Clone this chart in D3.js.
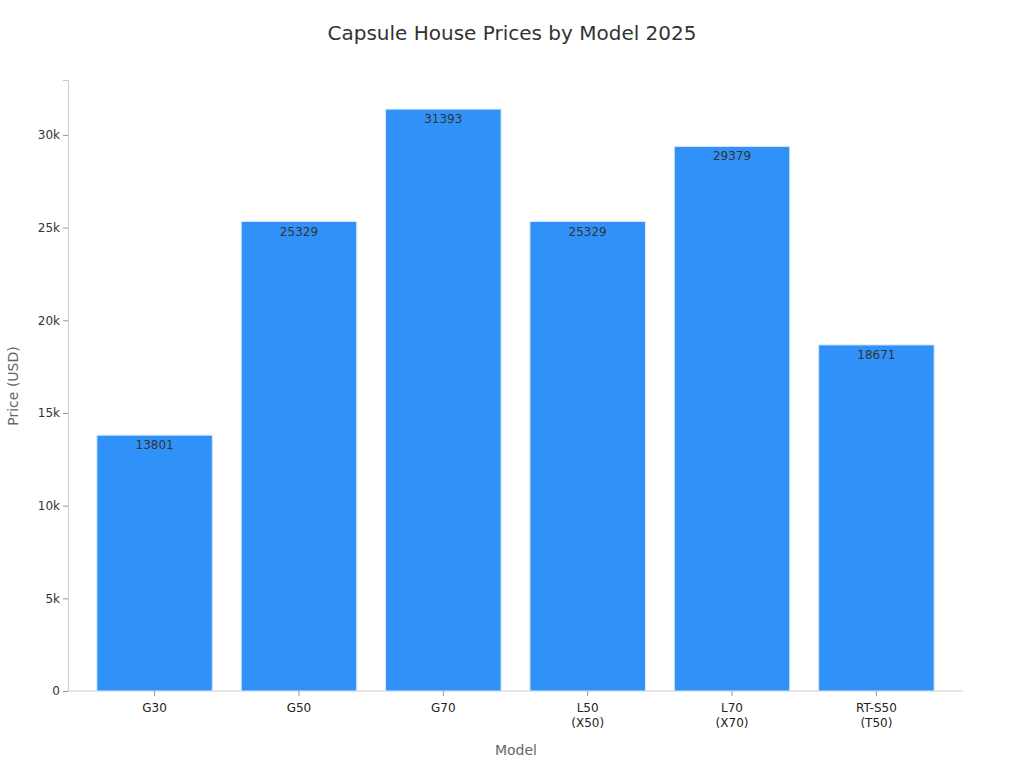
<!DOCTYPE html><html><head><meta charset="utf-8"><script src="https://d3js.org/d3.v7.min.js"></script>
<style>body{margin:0;background:#fff;font-family:"DejaVu Sans",sans-serif}</style></head><body><svg id="c" width="1024" height="768"></svg><script>
const categories=[["G30"],["G50"],["G70"],["L50","(X50)"],["L70","(X70)"],["RT-S50","(T50)"]];
const values=[13801,25329,31393,25329,29379,18671];
const yTicks=[0,5000,10000,15000,20000,25000,30000];
const svg=d3.select("#c");
const m={l:68,r:963,t:80,b:691};
const x=d3.scaleBand().domain(d3.range(6)).range([m.l,m.r]).padding(0.2);
const y=d3.scaleLinear().domain([0,32963]).range([m.b,m.t]);
svg.append("text").attr("x",512).attr("y",40).attr("text-anchor","middle").attr("font-size",20).attr("fill","#333").text("Capsule House Prices by Model 2025");
const ya=svg.append("g").attr("transform",`translate(${m.l},0)`).call(d3.axisLeft(y).tickValues(yTicks).tickSize(5).tickFormat(d=>d?d/1000+"k":"0"));
ya.select(".domain").attr("stroke","#ccc");ya.selectAll(".tick line").attr("stroke","#999");
ya.selectAll("text").attr("font-size",12).attr("fill","#333").attr("font-family","DejaVu Sans");
svg.append("line").attr("x1",m.l).attr("x2",m.r).attr("y1",m.b).attr("y2",m.b).attr("stroke","#ccc");
svg.selectAll("rect.b").data(values).join("rect").attr("x",(d,i)=>x(i)).attr("y",d=>y(d)).attr("width",x.bandwidth()).attr("height",d=>m.b-y(d)).attr("fill","#3092f8").attr("stroke","#d8e8fb").attr("stroke-width",1);
svg.selectAll("text.v").data(values).join("text").attr("x",(d,i)=>x(i)+x.bandwidth()/2).attr("y",d=>y(d)+14).attr("text-anchor","middle").attr("font-size",12).attr("fill","#333").text(d=>d);
categories.forEach((c,i)=>{c.forEach((s,j)=>{svg.append("text").attr("x",x(i)+x.bandwidth()/2).attr("y",712+j*15).attr("text-anchor","middle").attr("font-size",12).attr("fill","#222").text(s);});
svg.append("line").attr("x1",x(i)+x.bandwidth()/2).attr("x2",x(i)+x.bandwidth()/2).attr("y1",m.b).attr("y2",m.b+5).attr("stroke","#999");});
svg.append("text").attr("x",516).attr("y",755).attr("text-anchor","middle").attr("font-size",14).attr("fill","#666").text("Model");
svg.append("text").attr("transform","translate(18,386) rotate(-90)").attr("text-anchor","middle").attr("font-size",14).attr("fill","#666").text("Price (USD)");
</script></body></html>
